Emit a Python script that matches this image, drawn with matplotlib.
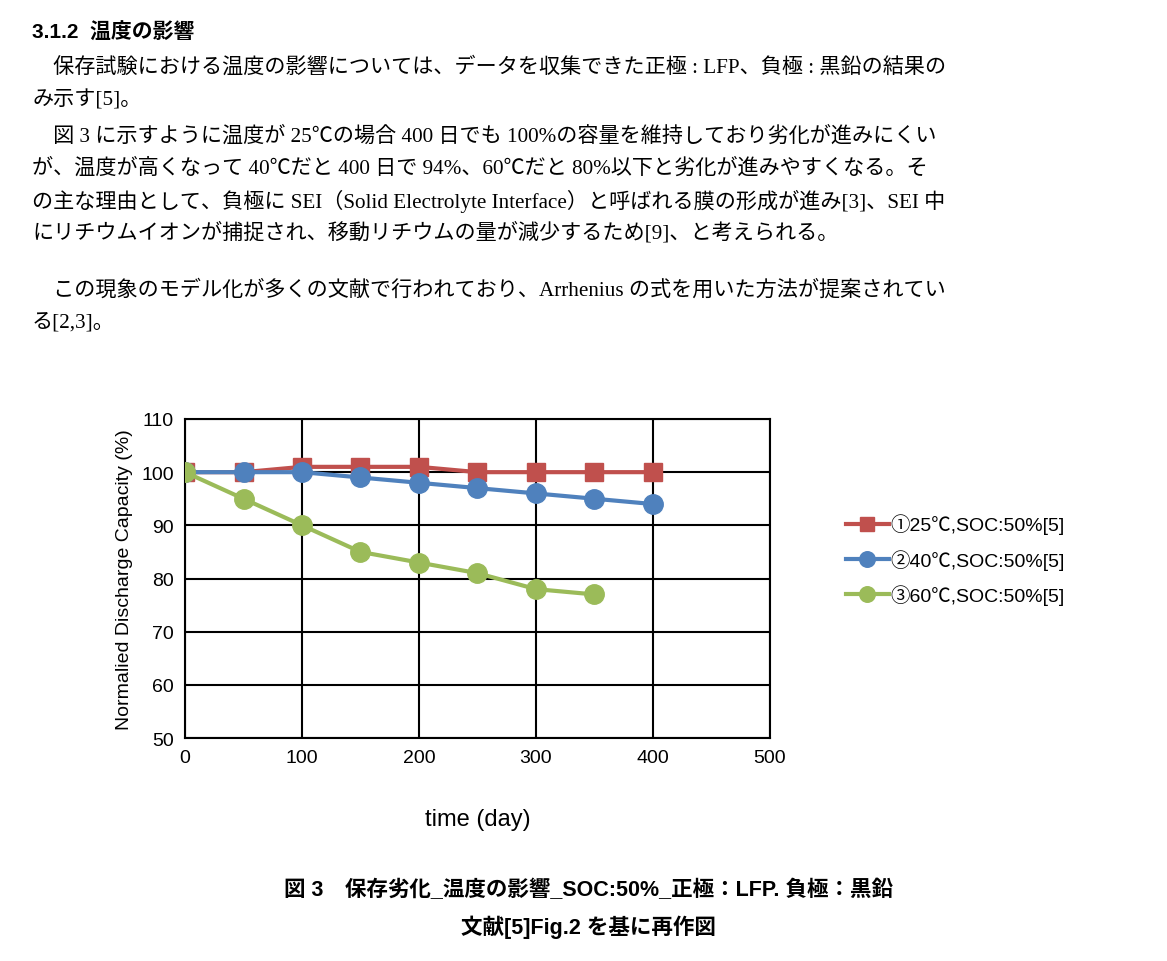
import matplotlib
matplotlib.use('Agg')
import matplotlib.pyplot as plt

# ── Data ───────────────────────────────────────────────────────────────────────
days_25 = [0, 50, 100, 150, 200, 250, 300, 350, 400]
cap_25 = [100, 100, 101, 101, 101, 100, 100, 100, 100]
days_40 = [0, 50, 100, 150, 200, 250, 300, 350, 400]
cap_40 = [100, 100, 100, 99, 98, 97, 96, 95, 94]
days_60 = [0, 50, 100, 150, 200, 250, 300, 350]
cap_60 = [100, 95, 90, 85, 83, 81, 78, 77]
labels = ['①25℃,SOC:50%[5]', '②40℃,SOC:50%[5]', '③60℃,SOC:50%[5]']

body_lines = [
    '　保存試験における温度の影響については、データを収集できた正極 : LFP、負極 : 黒鉛の結果の',
    'み示す[5]。',
    '　図 3 に示すように温度が 25℃の場合 400 日でも 100%の容量を維持しており劣化が進みにくい',
    'が、温度が高くなって 40℃だと 400 日で 94%、60℃だと 80%以下と劣化が進みやすくなる。そ',
    'の主な理由として、負極に SEI（Solid Electrolyte Interface）と呼ばれる膜の形成が進み[3]、SEI 中',
    'にリチウムイオンが捕捉され、移動リチウムの量が減少するため[9]、と考えられる。',
    '　この現象のモデル化が多くの文献で行われており、Arrhenius の式を用いた方法が提案されてい',
    'る[2,3]。',
]
body_y = [67, 100, 137, 169, 201, 233, 290, 323]

JP = ['Noto Sans CJK JP', 'DejaVu Sans']
SERIF = ['Liberation Serif', 'Noto Sans CJK JP', 'DejaVu Sans']
SANS = ['Liberation Sans', 'Noto Sans CJK JP', 'DejaVu Sans']

W, H = 1167, 962
fig = plt.figure(figsize=(W / 100, H / 100), dpi=100)
fig.patch.set_facecolor('white')

def fy(py):
    return 1 - py / H

fig.text(32 / W, fy(33), '3.1.2  温度の影響', family=SANS, fontsize=15,
         weight='bold', va='center', ha='left')
for line, py in zip(body_lines, body_y):
    fig.text(32 / W, fy(py), line, family=SERIF, fontsize=15.2, va='center', ha='left')

ax = fig.add_axes([185 / W, 1 - 739 / H, (770 - 185) / W, (739 - 420) / H])
ax.plot(days_25, cap_25, '-s', color='#C0504D', lw=3, ms=13, label=labels[0], zorder=3)
ax.plot(days_40, cap_40, '-o', color='#4F81BD', lw=3, ms=14, label=labels[1], zorder=4)
ax.plot(days_60, cap_60, '-o', color='#9BBB59', lw=3, ms=14, label=labels[2], zorder=5)
ax.set_xlim(0, 500)
ax.set_ylim(50, 110)
ax.set_xticks(range(0, 501, 100))
ax.set_yticks(range(50, 111, 10))
ax.grid(True, color='black', lw=1.5)
ax.set_axisbelow(True)
for s in ax.spines.values():
    s.set_linewidth(1.5)
ax.tick_params(length=0, labelsize=14, pad=8)
for t in ax.get_xticklabels() + ax.get_yticklabels():
    t.set_family(SANS)
ax.set_ylabel('Normalied Discharge Capacity (%)', family=SANS, fontsize=14, labelpad=6)
ax.set_xlabel('time (day)', family=SANS, fontsize=17, labelpad=30)
ax.legend(loc='center left', bbox_to_anchor=(1.1, 0.56), frameon=False,
          prop={'family': SANS, 'size': 14}, handlelength=2.2, labelspacing=0.75,
          handletextpad=0.1, markerscale=0.8)

fig.text(588 / W, fy(890), '図 3　保存劣化_温度の影響_SOC:50%_正極：LFP. 負極：黒鉛',
         family=SANS, fontsize=15.5, weight='bold', ha='center', va='center')
fig.text(588 / W, fy(927), '文献[5]Fig.2 を基に再作図', family=SANS, fontsize=15.5,
         weight='bold', ha='center', va='center')

fig.savefig('out.png', dpi=100)
